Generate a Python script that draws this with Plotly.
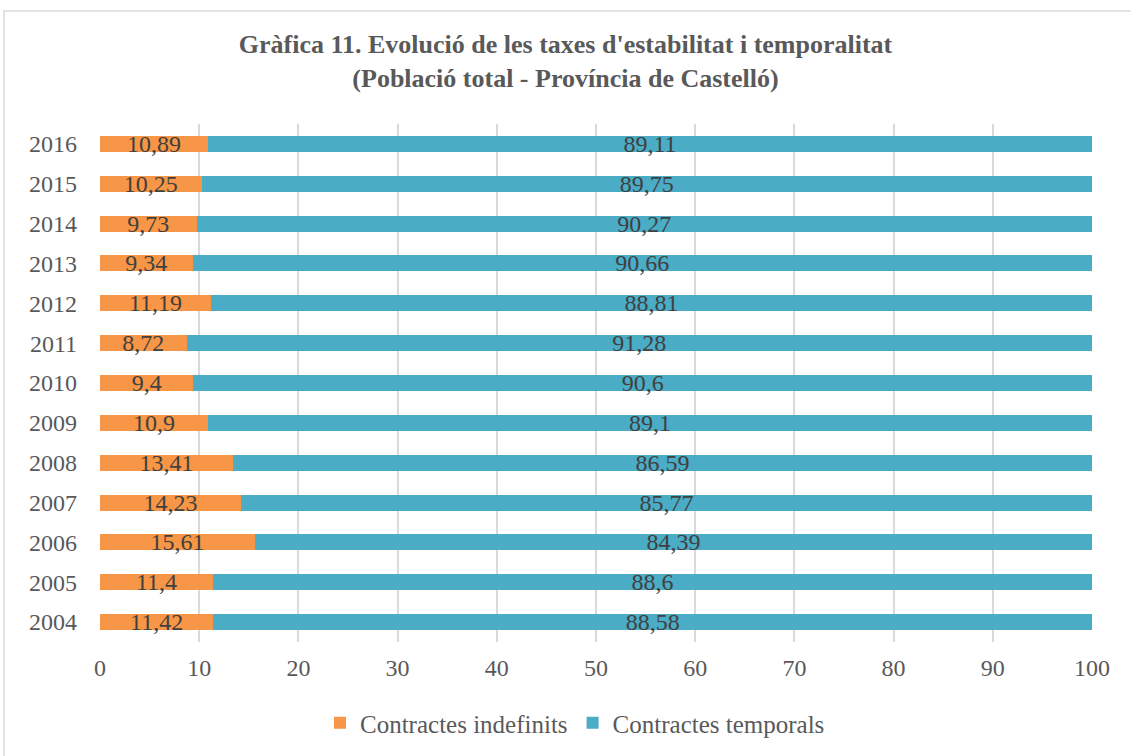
import plotly.graph_objects as go

years = ["2004", "2005", "2006", "2007", "2008", "2009", "2010", "2011", "2012", "2013", "2014", "2015", "2016"]
indefinits = [11.42, 11.4, 15.61, 14.23, 13.41, 10.9, 9.4, 8.72, 11.19, 9.34, 9.73, 10.25, 10.89]
temporals = [88.58, 88.6, 84.39, 85.77, 86.59, 89.1, 90.6, 91.28, 88.81, 90.66, 90.27, 89.75, 89.11]
x_ticks = [0, 10, 20, 30, 40, 50, 60, 70, 80, 90, 100]

FONT = "Liberation Serif"
W, H = 1131, 756
L, R, T, B = 100, 39, 124, 114
pw, ph = W - L - R, H - T - B

fig = go.Figure()
fig.add_trace(go.Bar(
    y=years, x=indefinits, orientation="h", name="Contractes indefinits",
    marker=dict(color="#F79646", line=dict(width=0)),
    text=indefinits, texttemplate="%{x}", textposition="inside",
    insidetextanchor="middle", constraintext="none",
    textfont=dict(family=FONT, size=24, color="#404040"),
))
fig.add_trace(go.Bar(
    y=years, x=temporals, orientation="h", name="Contractes temporals",
    marker=dict(color="#4BACC6", line=dict(width=0)),
    text=temporals, texttemplate="%{x}", textposition="inside",
    insidetextanchor="middle", constraintext="none",
    textfont=dict(family=FONT, size=24, color="#404040"),
))

fig.update_layout(
    width=W, height=H, barmode="stack", bargap=0.6,
    separators=",.",
    margin=dict(l=L, r=R, t=T, b=B, autoexpand=False),
    paper_bgcolor="white", plot_bgcolor="white",
    font=dict(family=FONT, size=24, color="#595959"),
    title=dict(
        text="<b>Gràfica 11. Evolució de les taxes d'estabilitat i temporalitat<br>(Població total - Província de Castelló)</b>",
        x=0.5, xanchor="center", y=1 - 53 / H, yanchor="middle",
        font=dict(family=FONT, size=26, color="#595959"),
    ),
    legend=dict(orientation="h", x=(575 - L) / pw, xanchor="center", y=-(723 - (T + ph)) / ph, yanchor="middle",
                font=dict(family=FONT, size=25, color="#595959"), traceorder="normal",
                itemwidth=30),
    shapes=[dict(type="rect", xref="paper", yref="paper",
                 x0=(4 - L) / pw, x1=(W + 5 - L) / pw,
                 y0=-(H + 5 - (T + ph)) / ph, y1=(T + ph - 11) / ph,
                 line=dict(color="#D9D9D9", width=1.5), fillcolor="rgba(0,0,0,0)", layer="below")],
)
fig.update_xaxes(range=[0, 100], tickvals=x_ticks, showgrid=True, gridcolor="#D9D9D9", gridwidth=1.5,
                 zeroline=False, showline=False, ticks="", ticklabelstandoff=9,
                 tickfont=dict(family=FONT, size=24, color="#595959"))
fig.update_yaxes(showgrid=False, zeroline=False, showline=False, ticks="", ticklabelstandoff=22,
                 tickfont=dict(family=FONT, size=24, color="#595959"))

fig.write_html("out.html", config={"displayModeBar": False},
               post_script="document.body.style.margin='0';document.body.style.overflow='hidden';")
